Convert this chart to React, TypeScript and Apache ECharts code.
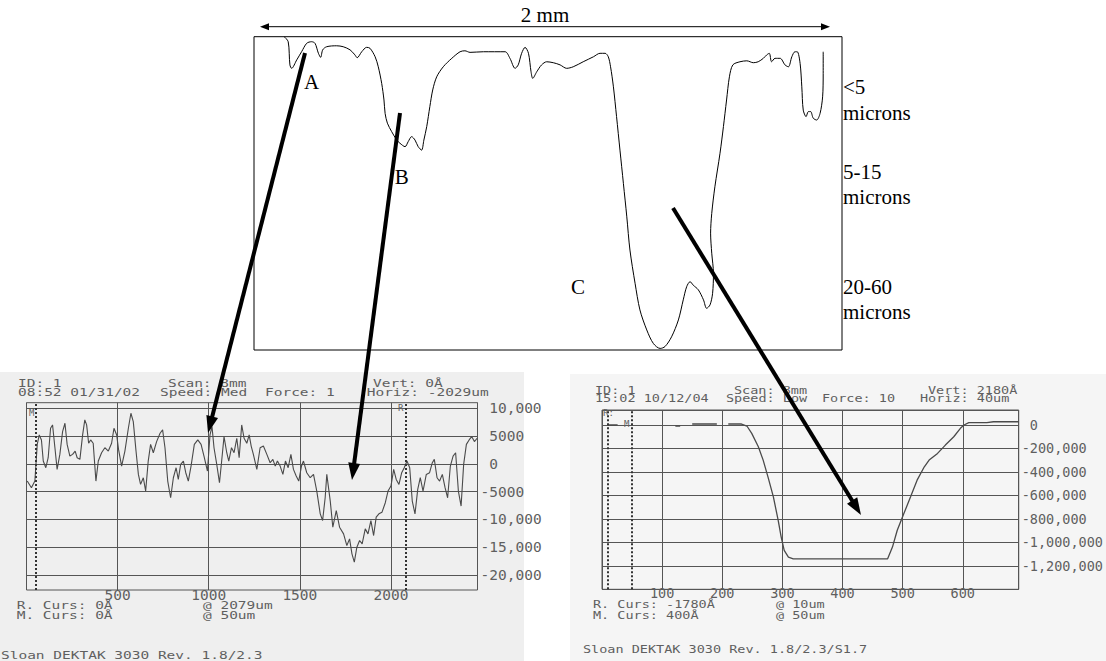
import React, { useEffect, useRef } from "react";
import * as echarts from "echarts";

// ---- Top sketch profile (x in µm across the 2 mm span, relative depth 0 = surface, 100 = deepest) ----
const topX = [85,99,105,111,129,146,164,181,193,205,213,220,234,269,292,316,333,341,357,374,386,404,415,427,435,439,447,462,480,491,509,520,532,544,555,567,575,585,596,606,620,643,673,702,719,737,784,860,877,895,906,918,930,942,951,957,971,988,1006,1029,1053,1076,1099,1134,1170,1193,1211,1222,1230,1240,1251,1263,1275,1287,1298,1316,1333,1357,1380,1404,1421,1444,1468,1485,1497,1509,1520,1538,1556,1567,1579,1588,1591,1585,1581,1585,1596,1614,1626,1637,1647,1659,1684,1708,1731,1748,1766,1778,1787,1795,1807,1825,1842,1854,1866,1877,1885,1895,1901,1906,1916,1924,1932,1941,1953,1965,1974,1976,1976];
const topDepth = [0,1.6,9.0,10.1,7.4,4.8,2.1,1.6,2.1,5.3,6.6,4.2,3.2,2.9,3.2,4.2,5.8,6.7,4.8,3.4,3.7,6.4,9.6,14.9,20.2,24.5,27.6,30.3,33.0,34.0,35.1,33.5,31.9,33.0,35.1,36.2,33.0,28.7,22.3,17.0,12.8,9.6,6.9,4.8,4.5,5.0,4.8,4.8,6.9,10.1,9.0,5.3,3.4,5.3,11.2,13.3,11.2,9.0,8.0,8.3,9.0,10.1,9.6,8.0,6.4,5.3,5.3,6.4,9.6,16.0,25.5,36.2,46.8,57.5,68.1,78.7,87.2,93.6,97.9,99.5,98.9,95.8,90.4,84.0,79.8,78.2,79.3,80.8,84.0,86.7,85.6,81.9,75.5,69.1,62.7,56.4,47.9,37.2,28.7,20.2,12.8,9.0,8.0,7.7,8.3,8.0,6.9,5.8,5.3,8.0,6.9,6.9,9.0,9.6,6.4,4.8,4.8,8.5,16.0,23.4,25.5,23.9,23.9,26.0,26.6,24.5,19.2,11.7,4.8];

// ---- Left DEKTAK scan (µm, Å) ----
const leftX = [4,27,46,59,70,82,92,106,119,132,143,156,168,183,198,211,223,238,253,267,278,293,308,320,330,341,352,366,381,394,412,430,449,467,480,495,505,522,540,559,573,586,601,614,626,641,654,668,681,696,714,733,747,760,775,791,806,821,833,846,861,874,888,903,921,940,958,974,993,1007,1018,1029,1044,1059,1071,1084,1099,1110,1125,1139,1154,1167,1181,1194,1209,1222,1233,1245,1264,1282,1300,1319,1337,1352,1365,1377,1392,1407,1421,1436,1451,1465,1480,1494,1509,1520,1538,1557,1575,1593,1612,1625,1639,1648,1667,1681,1700,1718,1740,1758,1773,1786,1799,1813,1828,1842,1859,1874,1890,1905,1919,1934,1951,1969,1984,2000,2015,2029,2044,2059,2073,2088,2103,2117,2132,2147,2161,2176,2194,2212,2227,2238,2253,2267,2282,2297,2311,2326,2341,2355,2370,2385,2399,2414,2429,2443,2458,2473];
const leftY = [-3100,-4300,-3100,3500,5200,4300,500,-700,1100,6400,7000,2900,-1000,1700,5800,7300,3500,1400,1700,2300,1100,800,5200,7900,7000,3700,4300,3700,-3100,500,2000,2900,2300,3700,6400,5200,2600,-400,2300,6400,9100,7600,2300,-1900,-3700,-2500,-4900,500,3500,2000,4000,5500,6100,2900,-3100,-6100,-2500,-700,-2800,-100,500,-1600,-3100,-400,3500,4300,3500,1400,-1300,5200,6700,2900,-100,-3400,500,4900,2000,500,2900,2000,4600,1100,7000,4600,3700,5200,3200,1700,-1000,2900,3200,1700,200,800,-400,500,-400,-1900,500,-700,1700,-1000,-2200,-3100,-400,500,-1600,-2500,-1900,-4900,-9000,-10200,-6100,-1900,-6700,-11400,-8400,-11400,-12600,-14700,-13500,-16200,-17700,-15000,-13800,-14400,-11700,-12600,-10200,-12900,-9600,-9000,-8700,-7000,-4900,-4000,-1000,-2800,-3700,-1600,-700,500,-700,-6700,-9000,-4600,-2500,-4900,-1900,-1600,200,800,-2500,-3100,-1900,-4300,-6100,-400,1400,2000,-4900,-7600,-100,3500,4300,4900,4000,4600];
const leftTicks = [10000, 5000, 0, -5000, -10000, -15000, -20000];
const leftCursors = [50, 2079];

// ---- Right DEKTAK scan (µm, Å); null = gap in the trace ----
const rightX = [9,26,76,122,130,140,150,191,200,210,232,241,249,260,268,276,285,293,298,303,310,318,475,483,491,502,513,524,536,544,558,571,585,596,602,610,640,651,693];
const rightY = [0,0,null,-8500,-8500,null,8500,8500,null,8500,8500,-8500,-71000,-185000,-299000,-442000,-613000,-812000,-955000,-1068000,-1126000,-1140000,-1140000,-1040000,-897000,-755000,-613000,-470000,-356000,-299000,-242000,-171000,-100000,-28000,0,20000,20000,28000,28000];
const rightCursors = [10, 50];

const MONO = "'DejaVu Sans Mono', 'Liberation Mono', monospace";
const SERIF = "'Liberation Serif', 'DejaVu Serif', serif";
const SCAN_TXT = "#5f5f5f";
const GRID_C = "#555555";
const LF = 14.5;
const RF = 13.5;

function commas(n: number): string {
  const s = String(Math.abs(n)).replace(/\B(?=(\d{3})+(?!\d))/g, ",");
  return n < 0 ? "-" + s : s;
}

function arrowEls(x1: number, y1: number, x2: number, y2: number, lw: number, hl: number, hw: number, color: string, z: number) {
  const dx = x2 - x1, dy = y2 - y1, L = Math.hypot(dx, dy);
  const ux = dx / L, uy = dy / L, nx = -uy, ny = ux;
  const bx = x2 - ux * hl, by = y2 - uy * hl;
  return [
    { type: "line", z, shape: { x1, y1, x2: bx + ux * 2, y2: by + uy * 2 }, style: { stroke: color, lineWidth: lw } },
    { type: "polygon", z, shape: { points: [[x2, y2], [bx + nx * hw, by + ny * hw], [bx - nx * hw, by - ny * hw]] }, style: { fill: color } },
  ];
}

function mono(x: number, y: number, text: string, size: number, sy = 0.75) {
  return {
    type: "text", x, y, scaleY: sy, z: 50,
    style: { text, x: 0, y: 0, fill: SCAN_TXT, fontFamily: MONO, fontSize: size, align: "left", verticalAlign: "middle" },
  };
}

function serif(x: number, y: number, text: string, align = "left") {
  return {
    type: "text", x, y, z: 50,
    style: { text, x: 0, y: 0, fill: "#000", fontFamily: SERIF, fontSize: 21, align, verticalAlign: "middle" },
  };
}

export default function App() {
  const ref = useRef<HTMLDivElement>(null);
  useEffect(() => {
    if (!ref.current) return;
    const chart = echarts.init(ref.current, undefined, { renderer: "svg" });

    const topData = topX.map((x, i) => [x, topDepth[i]]);
    const leftData = leftX.map((x, i) => [x, leftY[i]]);
    const rightData = rightX.map((x, i) => [x, rightY[i] === null ? "-" : rightY[i]]);

    const cursorLine = (vals: number[]) => ({
      symbol: "none", silent: true, label: { show: false },
      lineStyle: { type: "dotted", color: "#333", width: 2 },
      data: vals.map((v) => ({ xAxis: v })),
    });

    const labelRich = (size: number) => ({
      p: { padding: [0, 0, 0, size * 0.602], fontFamily: MONO, fontSize: size, color: SCAN_TXT },
      n: { fontFamily: MONO, fontSize: size, color: SCAN_TXT },
    });

    const graphics: any[] = [
      { type: "rect", z: -100, shape: { x: 0, y: 372, width: 524, height: 289 }, style: { fill: "#efefef" } },
      { type: "rect", z: -100, shape: { x: 570, y: 374, width: 536, height: 287 }, style: { fill: "#f5f5f5" } },
      ...arrowEls(545, 26.7, 260, 26.7, 1, 9, 3.5, "#000", 60),
      ...arrowEls(545, 26.7, 830, 26.7, 1, 9, 3.5, "#000", 60),
      serif(545, 15, "2 mm", "center"),
      serif(311.7, 82, "A", "center"),
      serif(401.7, 177, "B", "center"),
      serif(578, 287, "C", "center"),
      serif(843, 87, "<5"),
      serif(843, 113, "microns"),
      serif(843, 172, "5-15"),
      serif(843, 197, "microns"),
      serif(843, 287, "20-60"),
      serif(843, 312, "microns"),
      // left scan header / footer
      mono(18, 383, "ID: 1", LF),
      mono(18, 392.5, "08:52 01/31/02", LF),
      mono(168, 383, "Scan: 8mm", LF),
      mono(160, 392.5, "Speed: Med", LF),
      mono(265, 392.5, "Force: 1", LF),
      mono(373, 383, "Vert: 0Å", LF),
      mono(366.7, 392.5, "Horiz: -2029um", LF),
      mono(16.7, 605, "R. Curs: 0Å", LF),
      mono(203, 605, "@ 2079um", LF),
      mono(16.7, 615, "M. Curs: 0Å", LF),
      mono(203, 615, "@ 50um", LF),
      mono(1, 655, "Sloan DEKTAK 3030 Rev. 1.8/2.3", LF),
      mono(29, 413, "M", 9, 1),
      mono(398, 408, "R", 9, 1),
      // right scan header / footer
      mono(595, 390.7, "ID: 1", RF),
      mono(595, 398.3, "15:02 10/12/04", RF),
      mono(734, 390.7, "Scan: 8mm", RF),
      mono(726, 398.3, "Speed: Low", RF),
      mono(822, 398.3, "Force: 10", RF),
      mono(928, 390.7, "Vert: 2180Å", RF),
      mono(920, 398.3, "Horiz: 40um", RF),
      mono(593, 605, "R. Curs: -1780Å", RF),
      mono(776, 605, "@ 10um", RF),
      mono(593, 615.5, "M. Curs: 400Å", RF),
      mono(776, 615.5, "@ 50um", RF),
      mono(583, 650, "Sloan DEKTAK 3030 Rev. 1.8/2.3/S1.7", RF),
      mono(603, 413, "R:", 9, 1),
      mono(624, 424, "M", 9, 1),
      // pointer arrows
      ...arrowEls(305, 53, 208, 433, 4, 17, 6, "#000", 100),
      ...arrowEls(400, 113, 352, 480, 4, 17, 6, "#000", 100),
      ...arrowEls(673, 208, 861, 515, 4, 17, 6, "#000", 100),
    ];

    chart.setOption({
      animation: false,
      backgroundColor: "#ffffff",
      grid: [
        { left: 254, top: 36.7, width: 588, height: 313.3, show: true, borderColor: "#000", borderWidth: 1, backgroundColor: "transparent" },
        { left: 26.5, top: 402.7, width: 451, height: 187.3, show: true, borderColor: GRID_C, borderWidth: 1, backgroundColor: "transparent" },
        { left: 602, top: 410, width: 420, height: 179.3, show: true, borderColor: GRID_C, borderWidth: 1, backgroundColor: "transparent" },
      ],
      xAxis: [
        { gridIndex: 0, type: "value", min: -21, max: 2042, show: false },
        {
          gridIndex: 1, type: "value", min: 0, max: 2475, interval: 500,
          axisLine: { show: false }, axisTick: { show: false },
          splitLine: { show: true, lineStyle: { color: GRID_C, width: 1 } },
          axisLabel: {
            margin: -3, fontFamily: MONO, fontSize: LF, color: SCAN_TXT,
            formatter: (v: number) => (v > 0 && v < 2475 && v % 500 === 0 ? String(v) : ""),
          },
        },
        {
          gridIndex: 2, type: "value", min: 0, max: 693, interval: 100,
          axisLine: { show: false }, axisTick: { show: false },
          splitLine: { show: true, lineStyle: { color: GRID_C, width: 1 } },
          axisLabel: {
            margin: -3, fontFamily: MONO, fontSize: RF, color: SCAN_TXT,
            formatter: (v: number) => (v > 0 && v < 693 && v % 100 === 0 ? String(v) : ""),
          },
        },
      ],
      yAxis: [
        { gridIndex: 0, type: "value", min: 0, max: 100, inverse: true, show: false },
        {
          gridIndex: 1, type: "value", position: "right", min: -22700, max: 11000,
          axisLine: { show: false },
          axisTick: { show: false, customValues: leftTicks },
          splitLine: { show: true, lineStyle: { color: GRID_C, width: 1 } },
          axisLabel: {
            customValues: leftTicks, margin: 3, fontFamily: MONO, fontSize: LF, color: SCAN_TXT,
            formatter: (v: number) => {
              const s = Math.abs(v) >= 10000 ? commas(v) : String(v);
              return v >= 0 ? `{p|${s}}` : `{n|${s}}`;
            },
            rich: labelRich(LF),
          },
        },
        {
          gridIndex: 2, type: "value", position: "right", min: -1400000, max: 128000, interval: 200000,
          axisLine: { show: false }, axisTick: { show: false },
          splitLine: { show: true, lineStyle: { color: GRID_C, width: 1 } },
          axisLabel: {
            margin: 3, fontFamily: MONO, fontSize: RF, color: SCAN_TXT,
            formatter: (v: number) => {
              if (v > 0 || v <= -1400000) return "";
              return v === 0 ? "{p|0}" : `{n|${commas(v)}}`;
            },
            rich: labelRich(RF),
          },
        },
      ],
      series: [
        {
          type: "line", xAxisIndex: 0, yAxisIndex: 0, data: topData, smooth: 0.3,
          symbol: "none", lineStyle: { color: "#000", width: 1 }, z: 5,
        },
        {
          type: "line", xAxisIndex: 1, yAxisIndex: 1, data: leftData,
          symbol: "none", lineStyle: { color: "#4a4a4a", width: 1.1 },
          markLine: cursorLine(leftCursors),
        },
        {
          type: "line", xAxisIndex: 2, yAxisIndex: 2, data: rightData, connectNulls: false,
          symbol: "none", lineStyle: { color: "#4a4a4a", width: 1.3 },
          markLine: cursorLine(rightCursors),
        },
      ],
      graphic: { elements: graphics },
    });

    return () => chart.dispose();
  }, []);

  return (
    <div
      ref={ref}
      style={{ position: "absolute", left: 0, top: 0, width: 1106, height: 661 }}
    />
  );
}
